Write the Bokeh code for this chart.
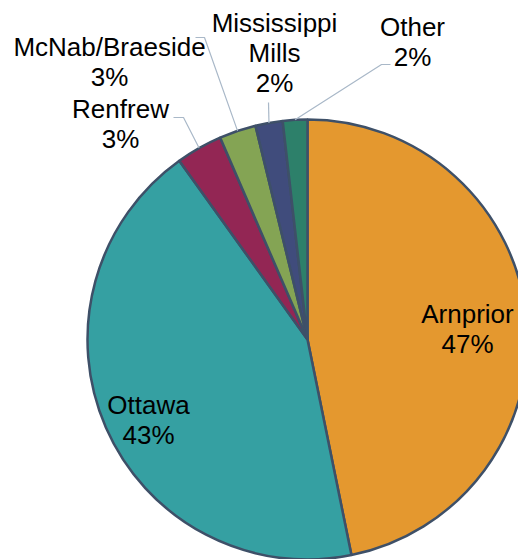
import numpy as np
from bokeh.plotting import figure
from bokeh.models import Range1d, ColumnDataSource
from bokeh.embed import file_html
from bokeh.resources import INLINE
from bokeh.core.properties import value

# ---- data ----
categories = ["Arnprior", "Ottawa", "Renfrew", "McNab/Braeside", "Mississippi Mills", "Other"]
shares = [46.8, 43.3, 3.4, 2.7, 2.0, 1.8]
colors = ["#E4982F", "#35A0A2", "#932654", "#84A454", "#404C7C", "#2D806A"]
label_lines = [["Arnprior"], ["Ottawa"], ["Renfrew"], ["McNab/Braeside"], ["Mississippi", "Mills"], ["Other"]]

# ---- layout (reference pixel coordinates, y downward) ----
REF_W, REF_H = 518, 559
CX, CY, R = 307, 339, 220
label_pos = {  # x centre, y anchor of first line
    "Arnprior": (467, 313),
    "Ottawa": (148, 404),
    "Renfrew": (120, 108),
    "McNab/Braeside": (109, 46),
    "Mississippi Mills": (274, 22),
    "Other": (412, 26),
}
leader_start = {  # leader line points before reaching the slice edge
    "Renfrew": [(173, 117), (183, 117)],
    "McNab/Braeside": [(195, 37), (204, 37)],
    "Mississippi Mills": [(268, 102)],
    "Other": [(390, 64), (381, 64)],
}
LINE_H = 30
FONT = "Liberation Sans"
FSIZE = "26px"

def fy(y):
    return REF_H - y

p = figure(width=REF_W, height=REF_H, output_backend="svg", toolbar_location=None,
           x_range=Range1d(0, REF_W), y_range=Range1d(0, REF_H), min_border=0)
p.axis.visible = False
p.grid.visible = False
p.outline_line_color = None
p.background_fill_color = "white"
p.border_fill_color = "white"

total = float(sum(shares))
cum = np.concatenate([[0.0], np.cumsum(shares)]) / total
start = np.pi / 2 - 2 * np.pi * cum[:-1]
end = np.pi / 2 - 2 * np.pi * cum[1:]
mid = (start + end) / 2

src = ColumnDataSource(dict(start=start, end=end, color=colors, cat=categories))
p.wedge(x=CX, y=fy(CY), radius=R, start_angle="start", end_angle="end",
        direction="clock", fill_color="color", line_color="#3E5068",
        line_width=2.5, source=src)

# leader lines
for i, cat in enumerate(categories):
    if cat in leader_start:
        ex = CX + R * np.cos(mid[i])
        ey = fy(CY) + R * np.sin(mid[i])
        pts = leader_start[cat]
        xs = [pt[0] for pt in pts] + [ex]
        ys = [fy(pt[1]) for pt in pts] + [ey]
        p.line(xs, ys, line_color="#A9B8C8", line_width=1.2)

# labels
tx, ty, tt = [], [], []
for i, cat in enumerate(categories):
    x0, y0 = label_pos[cat]
    lines = label_lines[i] + ["%d%%" % int(round(shares[i]))]
    for k, s in enumerate(lines):
        tx.append(x0)
        ty.append(fy(y0 + k * LINE_H))
        tt.append(s)
p.text(x=tx, y=ty, text=tt, text_align="center", text_baseline="alphabetic",
       text_font=value(FONT), text_font_size=FSIZE, text_color="#000000")

open("out.html", "w").write(file_html(p, INLINE))
